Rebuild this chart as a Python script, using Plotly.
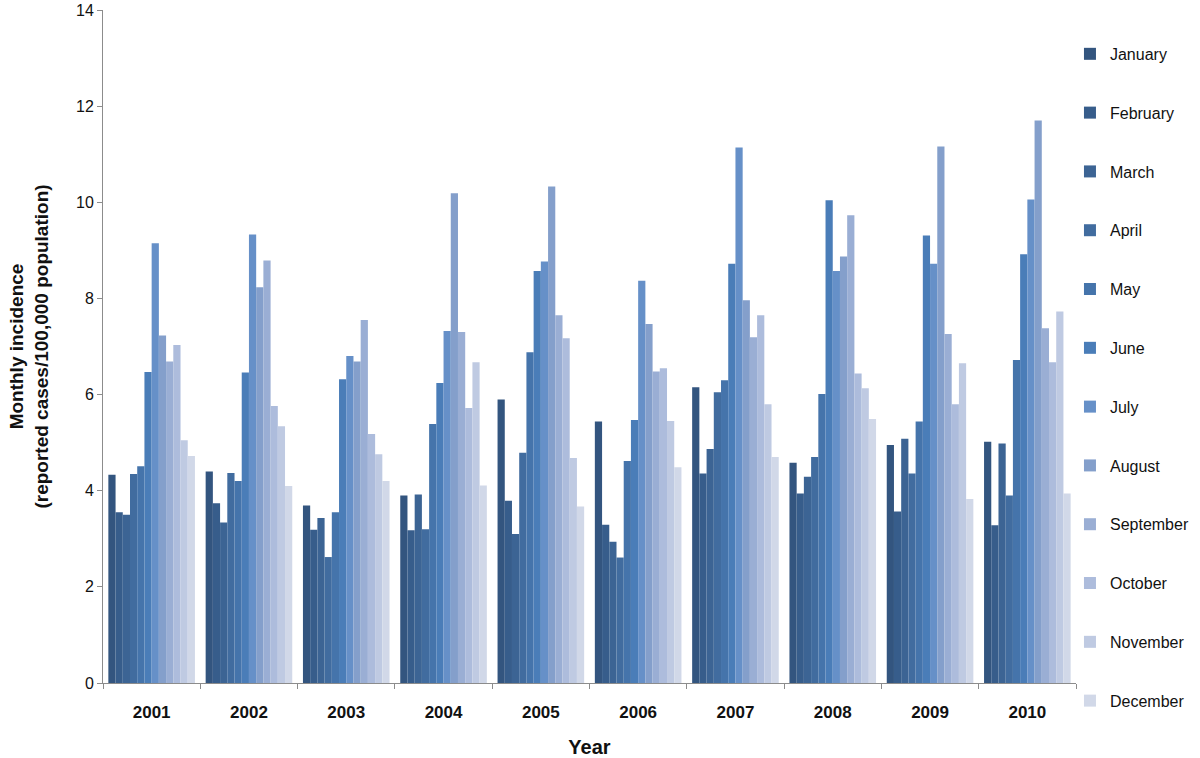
import plotly.graph_objects as go

years = ["2001", "2002", "2003", "2004", "2005", "2006", "2007", "2008", "2009", "2010"]
months = ["January", "February", "March", "April", "May", "June", "July",
          "August", "September", "October", "November", "December"]

# incidence per month (each list: values across years 2001..2010)
january = [4.33, 4.40, 3.69, 3.90, 5.90, 5.44, 6.15, 4.58, 4.95, 5.02]
february = [3.55, 3.74, 3.19, 3.18, 3.79, 3.29, 4.36, 3.94, 3.57, 3.28]
march = [3.50, 3.34, 3.43, 3.92, 3.10, 2.94, 4.87, 4.29, 5.08, 4.98]
april = [4.35, 4.37, 2.62, 3.20, 4.79, 2.61, 6.05, 4.70, 4.36, 3.90]
may = [4.51, 4.20, 3.55, 5.39, 6.88, 4.62, 6.30, 6.01, 5.44, 6.72]
june = [6.47, 6.46, 6.32, 6.24, 8.57, 5.47, 8.72, 10.04, 9.31, 8.92]
july = [9.15, 9.33, 6.80, 7.32, 8.77, 8.37, 11.14, 8.57, 8.72, 10.06]
august = [7.23, 8.23, 6.69, 10.19, 10.33, 7.47, 7.96, 8.87, 11.16, 11.70]
september = [6.69, 8.79, 7.55, 7.30, 7.65, 6.48, 7.19, 9.73, 7.26, 7.38]
october = [7.03, 5.76, 5.18, 5.72, 7.17, 6.55, 7.65, 6.44, 5.80, 6.67]
november = [5.05, 5.34, 4.76, 6.67, 4.68, 5.45, 5.80, 6.13, 6.65, 7.73]
december = [4.72, 4.10, 4.20, 4.11, 3.67, 4.49, 4.70, 5.49, 3.83, 3.94]

series = [january, february, march, april, may, june, july,
          august, september, october, november, december]

colors = ["#33557F", "#375D8B", "#3C6494", "#416C9F", "#4574AB", "#4A7DB8",
          "#6690C8", "#849FCB", "#9AAED4", "#ADBCDC", "#BFCAE2", "#D1D8E8"]

FONT = "Liberation Sans, Arial, Helvetica, sans-serif"

fig = go.Figure()
for i, (name, vals) in enumerate(zip(months, series)):
    fig.add_trace(go.Bar(
        x=years, y=vals, name=name,
        marker=dict(color=colors[i], line=dict(width=0)),
        legendgroup=name,
    ))

fig.update_layout(
    width=1200, height=758,
    barmode="group", bargap=0.11, bargroupgap=0,
    plot_bgcolor="white", paper_bgcolor="white",
    margin=dict(l=103, r=124, t=10, b=75, autoexpand=False),
    font=dict(family=FONT, size=15, color="#111111"),
    showlegend=True,
    legend=dict(
        x=0.9938, xanchor="left", y=0.960, yanchor="top",
        font=dict(family=FONT, size=16, color="#111111"),
        tracegroupgap=35.0,
        itemwidth=30,
        maxheight=750,
        bgcolor="rgba(0,0,0,0)",
    ),
    xaxis=dict(
        showline=True, linecolor="#8c8c8c", linewidth=1,
        ticks="outside", tickson="boundaries", ticklen=5, tickcolor="#8c8c8c",
        ticklabelstandoff=14,
        tickfont=dict(family=FONT, size=17, color="#111111", weight="bold"),
        title=dict(text="<b>Year</b>", font=dict(family=FONT, size=20, color="#111111"), standoff=18),
        showgrid=False,
    ),
    yaxis=dict(
        range=[0, 14], dtick=2,
        showline=True, linecolor="#8c8c8c", linewidth=1,
        ticks="outside", ticklen=5, tickcolor="#8c8c8c",
        ticklabeloverflow="allow",
        tickfont=dict(family=FONT, size=16, color="#111111"),
        title=dict(text="<b>Monthly incidence<br>(reported cases/100,000 population)</b>",
                   font=dict(family=FONT, size=19, color="#111111"), standoff=22),
        showgrid=False, zeroline=False,
    ),
)

fig.write_html("out.html",
               config={"displayModeBar": False},
               post_script="document.body.style.margin='0';document.body.style.overflow='hidden';")
